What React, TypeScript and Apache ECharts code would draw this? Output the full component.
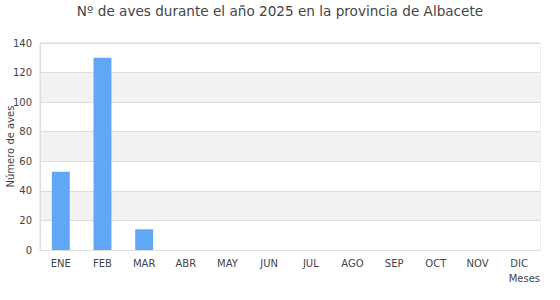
import React, { useEffect, useRef } from "react";
import * as echarts from "echarts";

const months = ["ENE", "FEB", "MAR", "ABR", "MAY", "JUN", "JUL", "AGO", "SEP", "OCT", "NOV", "DIC"];
const birds = [53, 130, 14, 0, 0, 0, 0, 0, 0, 0, 0, 0];
const titleText = "Nº de aves durante el año 2025 en la provincia de Albacete";

export default function App() {
  const ref = useRef<HTMLDivElement>(null);
  useEffect(() => {
    document.body.style.margin = "0";
    const chart = echarts.init(ref.current!, null, { renderer: "svg" });
    chart.setOption({
      animation: false,
      textStyle: { fontFamily: "DejaVu Sans" },
      title: {
        text: titleText,
        left: "center",
        top: -1,
        textStyle: { fontSize: 13.6, fontWeight: "normal", color: "#444" },
      },
      grid: {
        left: 40,
        right: 20,
        top: 43,
        bottom: 50,
        show: true,
        borderColor: "#ddd",
        borderWidth: 1,
        outerBoundsMode: "none",
        containLabel: false,
      },
      xAxis: {
        type: "category",
        data: months,
        name: "Meses",
        nameLocation: "end",
        nameGap: 0,
        nameMoveOverlap: false,
        nameTextStyle: { fontSize: 10, color: "#444", align: "right", verticalAlign: "top", padding: [23, 0, 0, 0] },
        axisLine: { lineStyle: { color: "#ddd" } },
        axisTick: { show: false },
        axisLabel: { fontSize: 10, color: "#444", margin: 8 },
      },
      yAxis: {
        type: "value",
        min: 0,
        max: 140,
        interval: 20,
        name: "Número de aves",
        nameLocation: "middle",
        nameGap: 25,
        nameMoveOverlap: false,
        nameTextStyle: { fontSize: 10, color: "#444" },
        axisLine: { show: true, lineStyle: { color: "#ddd" } },
        axisLabel: { fontSize: 10, color: "#444", margin: 8 },
        splitLine: { lineStyle: { color: "#ddd" } },
        splitArea: { show: true, areaStyle: { color: ["#ffffff", "#f2f2f2"] } },
      },
      series: [
        {
          type: "bar",
          data: birds,
          barWidth: "43%",
          itemStyle: { color: "#60a8f5" },
        },
      ],
    });
    return () => chart.dispose();
  }, []);
  return <div ref={ref} style={{ width: 560, height: 300 }} />;
}
